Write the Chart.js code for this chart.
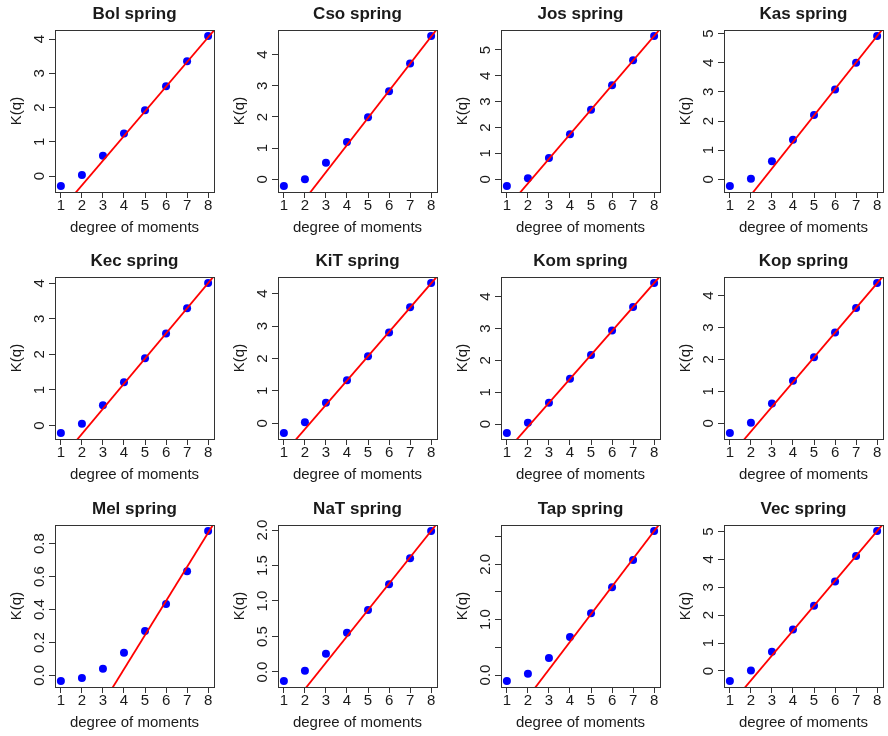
<!DOCTYPE html>
<html>
<head>
<meta charset="utf-8">
<script src="https://cdn.jsdelivr.net/npm/chart.js@4.4.1/dist/chart.umd.min.js"></script>
<style>
  html, body { margin:0; padding:0; background:#fff; }
  #wrap { position:relative; width:888px; height:736px; overflow:hidden; }
  #wrap canvas { position:absolute; }
</style>
</head>
<body>
<div id="wrap"></div>
<script>
// ── DATA ─────────────────────────────────────────────────────────────
const q = [1, 2, 3, 4, 5, 6, 7, 8];
const springs = ['Bol','Cso','Jos','Kas','Kec','KiT','Kom','Kop','Mel','NaT','Tap','Vec'];

const kBol = [-0.29, 0.03, 0.59, 1.24, 1.92, 2.62, 3.35, 4.09];
const kCso = [-0.215, 0.00, 0.53, 1.20, 1.99, 2.83, 3.72, 4.60];
const kJos = [-0.26, 0.04, 0.82, 1.74, 2.69, 3.64, 4.60, 5.54];
const kKas = [-0.23, 0.02, 0.62, 1.36, 2.21, 3.08, 4.00, 4.92];
const kKec = [-0.21, 0.05, 0.57, 1.22, 1.89, 2.59, 3.30, 4.01];
const kKiT = [-0.30, 0.03, 0.63, 1.33, 2.07, 2.80, 3.58, 4.33];
const kKom = [-0.28, 0.04, 0.67, 1.42, 2.17, 2.94, 3.68, 4.43];
const kKop = [-0.30, 0.02, 0.62, 1.33, 2.07, 2.84, 3.61, 4.39];
const kMel = [-0.034, -0.016, 0.040, 0.137, 0.269, 0.434, 0.632, 0.877];
const kNaT = [-0.127, 0.019, 0.258, 0.554, 0.873, 1.235, 1.601, 1.986];
const kTap = [-0.108, 0.024, 0.307, 0.687, 1.114, 1.584, 2.078, 2.602];
const kVec = [-0.36, 0.02, 0.69, 1.49, 2.34, 3.21, 4.12, 5.02];
const K = [kBol, kCso, kJos, kKas, kKec, kKiT, kKom, kKop, kMel, kNaT, kTap, kVec];

// red fitted line  K = a + b*q
const fitIntercept = [-1.71, -2.38, -2.06, -2.36, -1.65, -1.68, -1.59, -1.80, -0.79, -0.982, -1.40, -2.125];
const fitSlope     = [0.72, 0.87, 0.95, 0.91, 0.707, 0.75, 0.7525, 0.773, 0.207, 0.371, 0.50, 0.893];

const xTicks = [1, 2, 3, 4, 5, 6, 7, 8];
const yTicks = [
  [0,1,2,3,4], [0,1,2,3,4], [0,1,2,3,4,5], [0,1,2,3,4,5],
  [0,1,2,3,4], [0,1,2,3,4], [0,1,2,3,4], [0,1,2,3,4],
  [0,0.2,0.4,0.6,0.8], [0,0.5,1,1.5,2], [0,0.5,1,1.5,2,2.5], [0,1,2,3,4,5]
];
const yTickLabels = [
  ['0','1','2','3','4'], ['0','1','2','3','4'], ['0','1','2','3','4','5'], ['0','1','2','3','4','5'],
  ['0','1','2','3','4'], ['0','1','2','3','4'], ['0','1','2','3','4'], ['0','1','2','3','4'],
  ['0.0','0.2','0.4','0.6','0.8'], ['0.0','0.5','1.0','1.5','2.0'], ['0.0','','1.0','','2.0',''], ['0','1','2','3','4','5']
];

// ── LAYOUT ───────────────────────────────────────────────────────────
const colLeft = [0, 223, 446, 669];
const rowTop  = [0, 247, 495];
const INK = '#1a1a1a';
const FONT = '"Liberation Sans", Arial, sans-serif';

Chart.defaults.font.family = FONT;
Chart.defaults.color = INK;

// R-like extras: box, main title, rotated y tick labels, y title
const rStyle = {
  id: 'rStyle',
  afterDraw(chart, args, opts) {
    const { ctx, chartArea: a, scales: { y } } = chart;
    const p = opts.panel;
    ctx.save();
    ctx.strokeStyle = '#333';
    ctx.lineWidth = 1;
    ctx.strokeRect(Math.round(a.left) + 0.5, Math.round(a.top) + 0.5,
                   Math.round(a.right - a.left), Math.round(a.bottom - a.top));
    ctx.fillStyle = INK;
    ctx.textAlign = 'center';
    ctx.textBaseline = 'alphabetic';
    ctx.font = 'bold 17px ' + FONT;
    ctx.fillText(springs[p] + ' spring', (a.left + a.right) / 2, a.top - 11);
    ctx.font = '15px ' + FONT;
    yTicks[p].forEach((v, k) => {
      const lbl = yTickLabels[p][k];
      if (!lbl) return;
      ctx.save();
      ctx.translate(a.left - 11, y.getPixelForValue(v));
      ctx.rotate(-Math.PI / 2);
      ctx.fillText(lbl, 0, 0);
      ctx.restore();
    });
    ctx.save();
    ctx.translate(a.left - 34, (a.top + a.bottom) / 2);
    ctx.rotate(-Math.PI / 2);
    ctx.fillText('K(q)', 0, 0);
    ctx.restore();
    ctx.restore();
  }
};

const wrap = document.getElementById('wrap');
springs.forEach((name, i) => {
  const cv = document.createElement('canvas');
  cv.width = 222; cv.height = 245;
  cv.style.left = colLeft[i % 4] + 'px';
  cv.style.top = rowTop[Math.floor(i / 4)] + 'px';
  wrap.appendChild(cv);

  const k = K[i];
  const lo = Math.min(...k), hi = Math.max(...k), pad = 0.04 * (hi - lo);
  const xMin = 0.72, xMax = 8.28;

  new Chart(cv, {
    type: 'scatter',
    data: {
      datasets: [
        { data: [xMin, xMax].map(x => ({ x, y: fitIntercept[i] + fitSlope[i] * x })),
          showLine: true, borderColor: '#ff0000', borderWidth: 1.8, pointRadius: 0 },
        { data: q.map((x, j) => ({ x, y: k[j] })),
          backgroundColor: '#0000ff', borderWidth: 0, pointRadius: 4 }
      ]
    },
    options: {
      responsive: false, animation: false, devicePixelRatio: 1,
      layout: { padding: { top: 30, left: 0, right: 8, bottom: 0 } },
      plugins: { legend: { display: false }, tooltip: { enabled: false }, rStyle: { panel: i } },
      scales: {
        x: {
          type: 'linear', min: xMin, max: xMax,
          afterBuildTicks: s => { s.ticks = xTicks.map(v => ({ value: v })); },
          afterFit: s => { s.height = 53; },
          grid: { drawOnChartArea: false, drawTicks: true, tickLength: 6, color: '#333' },
          border: { display: false },
          ticks: { font: { size: 15 }, color: INK, padding: -1, maxRotation: 0, autoSkip: false, callback: v => String(v) },
          title: { display: true, text: 'degree of moments', font: { size: 15 }, color: INK, padding: { top: 0, bottom: 8 } }
        },
        y: {
          type: 'linear', min: lo - pad, max: hi + pad,
          afterBuildTicks: s => { s.ticks = yTicks[i].map(v => ({ value: v })); },
          afterFit: s => { s.width = 55; },
          grid: { drawOnChartArea: false, drawTicks: true, tickLength: 6, color: '#333' },
          border: { display: false },
          ticks: { display: false }
        }
      }
    },
    plugins: [rStyle]
  });
});
</script>
</body>
</html>
